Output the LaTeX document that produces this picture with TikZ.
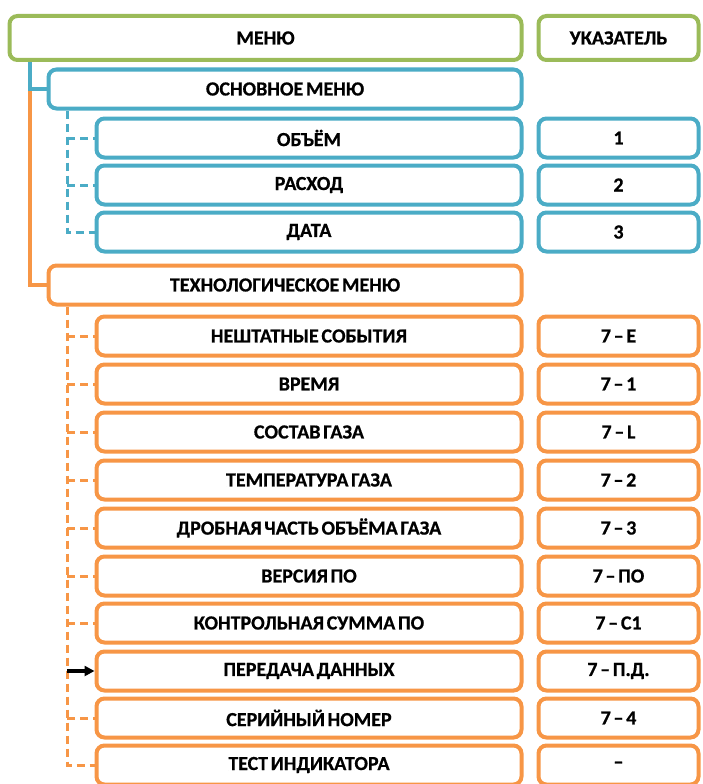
\documentclass[tikz,border=0pt]{standalone}
\usepackage{fontspec}
\setmainfont{Carlito}[WordSpace=0.6, BoldFeatures={FakeBold=0.6}]
\usetikzlibrary{arrows.meta}
\definecolor{menugreen}{HTML}{9BBB59}
\definecolor{menublue}{HTML}{4BACC6}
\definecolor{menuorange}{HTML}{F79646}

\begin{document}
\begin{tikzpicture}[x=1pt,y=-1pt]
\tikzset{
    box/.style={draw, line width=4pt, rounded corners=8pt, fill=white,
        font=\fontsize{20}{22}\selectfont\bfseries, inner sep=0pt},
    topbox/.style={box, draw=menugreen, minimum height=44pt},
    bluebox/.style={box, draw=menublue, minimum height=39pt},
    orangebox/.style={box, draw=menuorange, minimum height=39pt},
    wide/.style={minimum width=425pt},
    idx/.style={minimum width=160pt},
    blueline/.style={draw=menublue, line width=3.5pt},
    orangeline/.style={draw=menuorange, line width=3.5pt},
    bluedash/.style={blueline, line width=3pt, dash pattern=on 8pt off 5pt},
    orangedash/.style={orangeline, line width=3pt, dash pattern=on 8pt off 5pt}
}
\useasboundingbox (0,0) rectangle (702,784);

% Header
\node[topbox, minimum width=512pt] (menu) at (265.5,38){МЕНЮ};
\node[topbox, idx] (ukaz) at (618.5,38){УКАЗАТЕЛЬ};

% Main menu
\node[bluebox, minimum width=473pt] (osn) at (285,89){ОСНОВНОЕ МЕНЮ};
\node[bluebox, wide] (obem) at (309,138){ОБЪЁМ};
\node[bluebox, wide] (rash) at (309,185){РАСХОД};
\node[bluebox, wide] (data) at (309,232){ДАТА};
\node[bluebox, idx] (obemuk) at (618.5,138){1};
\node[bluebox, idx] (rashuk) at (618.5,185){2};
\node[bluebox, idx] (datauk) at (618.5,232){3};

% Technological menu
\node[orangebox, minimum width=473pt] (tech) at (285,285){ТЕХНОЛОГИЧЕСКОЕ МЕНЮ};
\node[orangebox, wide] (nesh) at (309,336){НЕШТАТНЫЕ СОБЫТИЯ};
\node[orangebox, wide] (vrem) at (309,384){ВРЕМЯ};
\node[orangebox, wide] (sost) at (309,432){СОСТАВ ГАЗА};
\node[orangebox, wide] (temp) at (309,480){ТЕМПЕРАТУРА ГАЗА};
\node[orangebox, wide] (drob) at (309,528){ДРОБНАЯ ЧАСТЬ ОБЪЁМА ГАЗА};
\node[orangebox, wide] (vers) at (309,576){ВЕРСИЯ ПО};
\node[orangebox, wide] (ksum) at (309,623){КОНТРОЛЬНАЯ СУММА ПО};
\node[orangebox, wide] (pered) at (309,671){ПЕРЕДАЧА ДАННЫХ};
\node[orangebox, wide] (sern) at (309,718){СЕРИЙНЫЙ НОМЕР};
\node[orangebox, wide] (test) at (309,765){ТЕСТ ИНДИКАТОРА};
\node[orangebox, idx] (neshuk) at (618.5,336){7 – Е};
\node[orangebox, idx] (vremuk) at (618.5,384){7 – 1};
\node[orangebox, idx] (sostuk) at (618.5,432){7 – L};
\node[orangebox, idx] (tempuk) at (618.5,480){7 – 2};
\node[orangebox, idx] (drobuk) at (618.5,528){7 – 3};
\node[orangebox, idx] (versuk) at (618.5,576){7 – ПО};
\node[orangebox, idx] (ksumuk) at (618.5,623){7 – С1};
\node[orangebox, idx] (pereduk) at (618.5,671){7 – П.Д.};
\node[orangebox, idx] (sernuk) at (618.5,718){7 – 4};
\node[orangebox, idx] (testuk) at (618.5,765){–};

% Tree lines
\coordinate (trunk) at (30,0);
\coordinate (branch) at (67,0);
 \draw[orangeline](trunk |- osn.west)|-(tech.west);
 \draw[blueline](trunk |- menu.south)|-(osn.west);
 \draw[bluedash](branch |- osn.south)|-(data.west);
 \draw[bluedash](branch |- obem.west)--(obem.west);
 \draw[bluedash](branch |- rash.west)--(rash.west);
 \draw[orangedash](branch |- tech.south)|-(test.west);
 \draw[orangedash](branch |- nesh.west)--(nesh.west);
 \draw[orangedash](branch |- vrem.west)--(vrem.west);
 \draw[orangedash](branch |- sost.west)--(sost.west);
 \draw[orangedash](branch |- temp.west)--(temp.west);
 \draw[orangedash](branch |- drob.west)--(drob.west);
 \draw[orangedash](branch |- vers.west)--(vers.west);
 \draw[orangedash](branch |- ksum.west)--(ksum.west);
 \draw[orangedash](branch |- sern.west)--(sern.west);
 \draw[line width=3.5pt,-{Triangle[length=10pt,width=10pt]}](branch |- pered.west)--(pered.west);

\end{tikzpicture}
\end{document}
